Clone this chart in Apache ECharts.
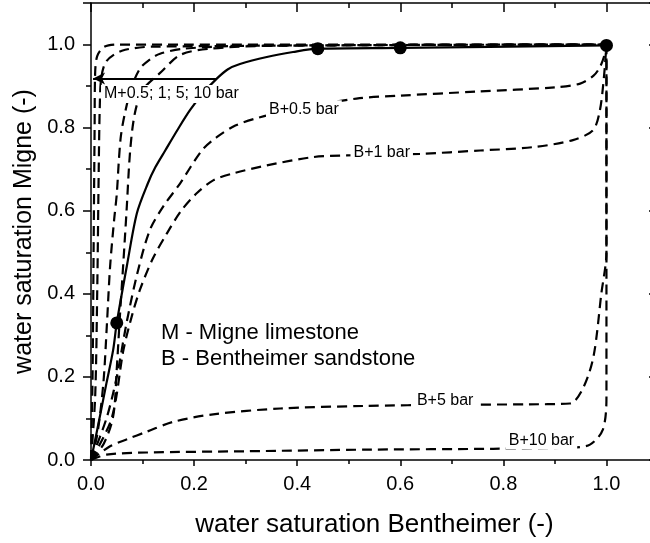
<!DOCTYPE html>
<html>
<head>
<meta charset="utf-8">
<script src="https://cdn.jsdelivr.net/npm/echarts@6/dist/echarts.min.js"></script>
<style>
html, body { margin: 0; padding: 0; background: #fff; overflow: hidden; }
#chart { width: 664px; height: 543px; }
</style>
</head>
<body>
<div id="chart"></div>
<script>
// curves: [S_w Bentheimer, S_w Migne]
var migne05 = [[0,0],[0.003,0.2],[0.005,0.5],[0.007,0.8],[0.008,0.93],[0.012,0.972],[0.025,0.994],[0.05,1.0],[1,1]];
var migne1 = [[0,0],[0.008,0.15],[0.012,0.4],[0.015,0.7],[0.017,0.85],[0.02,0.92],[0.03,0.96],[0.06,0.985],[0.12,0.995],[1,1]];
var migne5 = [[0,0],[0.012,0.06],[0.024,0.185],[0.031,0.33],[0.037,0.465],[0.045,0.58],[0.05,0.64],[0.054,0.72],[0.058,0.78],[0.065,0.83],[0.078,0.895],[0.095,0.942],[0.115,0.965],[0.134,0.978],[0.18,0.99],[0.3,0.997],[1,1]];
var migne10 = [[0,0],[0.025,0.04],[0.043,0.105],[0.05,0.22],[0.056,0.345],[0.063,0.48],[0.069,0.6],[0.076,0.745],[0.085,0.834],[0.1,0.89],[0.137,0.935],[0.173,0.975],[0.23,0.99],[0.35,0.997],[1,1]];

var benth05 = [[0,0],[0.03,0.1],[0.05,0.2],[0.069,0.33],[0.09,0.45],[0.114,0.553],[0.14,0.61],[0.173,0.666],[0.215,0.745],[0.244,0.777],[0.28,0.805],[0.328,0.825],[0.4,0.845],[0.515,0.87],[0.6,0.877],[0.75,0.887],[0.9,0.897],[0.949,0.906],[0.975,0.925],[0.987,0.945],[0.995,0.97],[1,1]];
var benth1 = [[0,0],[0.04,0.1],[0.063,0.265],[0.08,0.35],[0.095,0.41],[0.12,0.485],[0.147,0.545],[0.175,0.6],[0.205,0.642],[0.237,0.673],[0.276,0.69],[0.341,0.709],[0.43,0.729],[0.496,0.733],[0.638,0.737],[0.755,0.745],[0.857,0.753],[0.935,0.77],[0.974,0.794],[0.987,0.84],[0.995,0.92],[1,1]];
var benth5 = [[0,0],[0.037,0.033],[0.07,0.05],[0.108,0.068],[0.16,0.092],[0.237,0.11],[0.367,0.124],[0.528,0.13],[0.7,0.133],[0.85,0.134],[0.929,0.136],[0.955,0.174],[0.975,0.25],[0.99,0.4],[1,0.5],[1,1]];
var benth10 = [[0,0],[0.03,0.013],[0.108,0.018],[0.3,0.021],[0.54,0.025],[0.78,0.027],[0.93,0.03],[0.968,0.037],[0.993,0.073],[1,0.15],[1,1]];

// solid path and its measured points
var solidPath = [[0,0],[0.011,0.066],[0.03,0.185],[0.043,0.265],[0.05,0.33],[0.07,0.47],[0.089,0.594],[0.11,0.665],[0.125,0.705],[0.144,0.745],[0.168,0.795],[0.192,0.842],[0.218,0.884],[0.244,0.918],[0.265,0.94],[0.289,0.953],[0.341,0.97],[0.392,0.982],[0.44,0.99],[0.6,0.992],[1,0.998]];
var solidDots = [[0.05,0.33],[0.44,0.99],[0.6,0.992],[1,0.998]];
var arrowFrom = [0.244,0.918];
var arrowTo = [0.004,0.918];

// annotations
var noteTexts = ['M+0.5; 1; 5; 10 bar','B+0.5 bar','B+1 bar','B+5 bar','B+10 bar'];
var notePos = [[0.156,0.881],[0.413,0.844],[0.564,0.739],[0.687,0.143],[0.874,0.047]];
var keyTexts = ['M - Migne limestone','B - Bentheimer sandstone'];
var keyPos = [[0.129,0.307],[0.129,0.244]];

var FONT = '"Liberation Sans", Arial, sans-serif';

var dashed = function(name, data) {
	return {
		name: name,
		type: 'line',
		data: data,
		symbol: 'none',
		smooth: 0.3,
		lineStyle: { color: '#000', width: 2.2, type: [10, 6] },
		z: 2
	};
};

var textSeries = function(texts, pos, size, left) {
	return {
		type: 'scatter',
		symbolSize: 1,
		itemStyle: { color: 'rgba(0,0,0,0)', opacity: 1 },
		silent: true,
		z: 10,
		data: pos.map(function(p, i) { return { value: p, name: texts[i] }; }),
		label: {
			show: true,
			position: left ? 'right' : 'inside',
			distance: 0,
			formatter: '{b}',
			color: '#000',
			opacity: 1,
			fontFamily: FONT,
			fontSize: size,
			backgroundColor: left ? 'transparent' : '#fff',
			padding: [1, 3]
		}
	};
};

var axisBase = function(pos, showLabel, inside, len) {
	return {
		type: 'value',
		position: pos,
		min: 0,
		max: 1.1,
		interval: 0.2,
		splitLine: { show: false },
		axisLine: { show: true, onZero: false, lineStyle: { color: '#000', width: 1.5 } },
		axisTick: { show: true, inside: inside, length: len, lineStyle: { color: '#000', width: 1.5 } },
		minorTick: { show: true, splitNumber: 2, length: Math.round(len * 0.6), lineStyle: { color: '#000', width: 1.5 } },
		axisLabel: {
			show: showLabel,
			showMaxLabel: false,
			color: '#000',
			fontFamily: FONT,
			fontSize: 20,
			margin: 14,
			formatter: function(v) { return v.toFixed(1); }
		}
	};
};

var xBottom = axisBase('bottom', true, false, 6);
xBottom.name = 'water saturation Bentheimer (-)';
xBottom.nameLocation = 'middle';
xBottom.nameGap = 52;
xBottom.nameTextStyle = { color: '#000', fontFamily: FONT, fontSize: 26 };
var xTop = axisBase('top', false, true, 9);

var yLeft = axisBase('left', true, false, 8);
yLeft.axisLabel.margin = 16;
yLeft.name = 'water saturation Migne (-)';
yLeft.nameLocation = 'middle';
yLeft.nameGap = 41;
yLeft.nameTextStyle = { color: '#000', fontFamily: FONT, fontSize: 25 };
var yRight = axisBase('right', false, true, 9);

var solid = {
	name: 'solid',
	type: 'line',
	data: solidPath,
	symbol: 'none',
	smooth: 0.3,
	lineStyle: { color: '#000', width: 2.2 },
	z: 3,
	markLine: {
		silent: true,
		symbol: ['none', 'arrow'],
		symbolSize: [9, 12],
		label: { show: false },
		lineStyle: { color: '#000', width: 2.2, type: 'solid' },
		data: [[{ coord: arrowFrom }, { coord: arrowTo }]]
	}
};

var dots = {
	name: 'dots',
	type: 'scatter',
	data: solidDots,
	symbol: 'circle',
	symbolSize: 13,
	itemStyle: { color: '#000', opacity: 1 },
	z: 4
};

var option = {
	animation: false,
	grid: { left: 91, top: 3, width: 567, height: 457.5 },
	xAxis: [xBottom, xTop],
	yAxis: [yLeft, yRight],
	series: [
		dashed('M+0.5', migne05),
		dashed('M+1', migne1),
		dashed('M+5', migne5),
		dashed('M+10', migne10),
		dashed('B+0.5', benth05),
		dashed('B+1', benth1),
		dashed('B+5', benth5),
		dashed('B+10', benth10),
		solid,
		dots,
		textSeries(noteTexts, notePos, 16, false),
		textSeries(keyTexts, keyPos, 22, true)
	]
};

var myChart = echarts.init(document.getElementById('chart'));
myChart.setOption(option);
</script>
</body>
</html>
